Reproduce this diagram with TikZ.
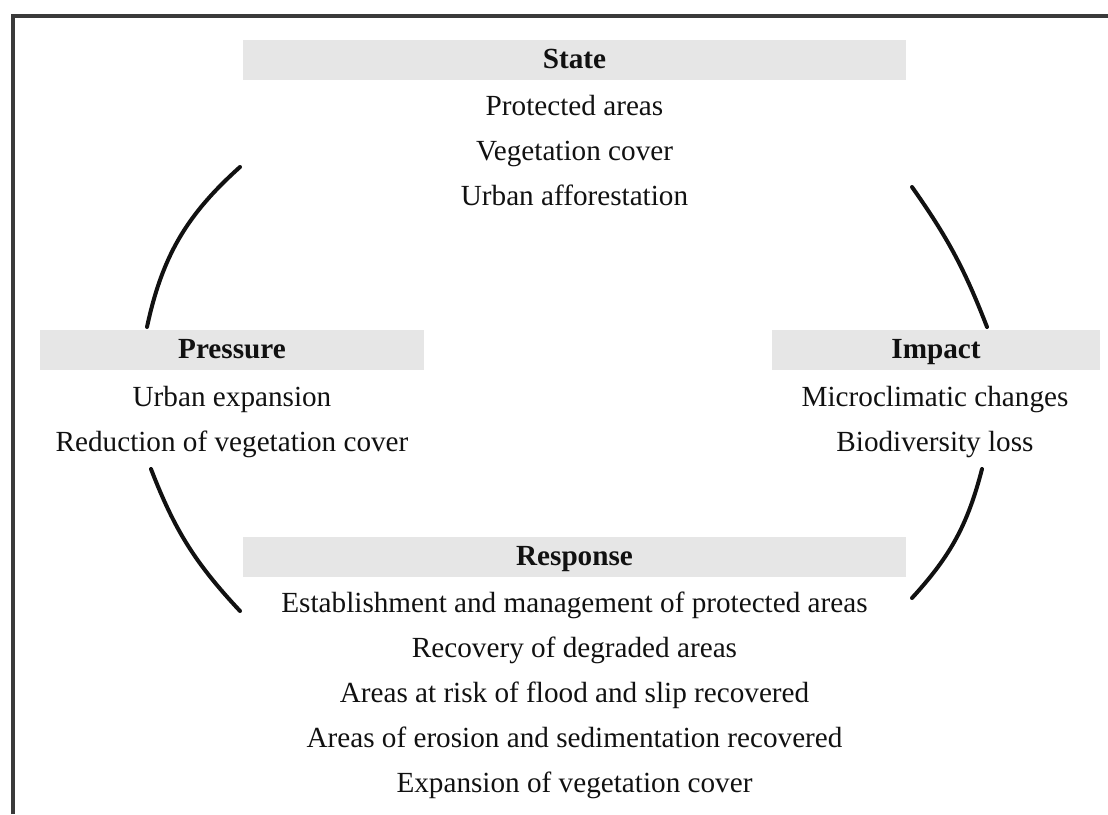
\documentclass[tikz,border=0pt]{standalone}
\usepackage{fontspec}
\setmainfont{Liberation Serif}
\usetikzlibrary{positioning}
\definecolor{dpBar}{HTML}{E6E6E6}
\definecolor{dpInk}{HTML}{111111}
\definecolor{dpFrame}{HTML}{3A3A3A}

\begin{document}
\begin{tikzpicture}[
    x=0.5pt, y=-0.5pt,
    bar/.style={fill=dpBar, minimum height=20pt, inner sep=0pt,
                text height=0.9em, text depth=0.08em,
                font=\fontsize{14.6}{17}\selectfont\bfseries, text=dpInk},
    items/.style={anchor=base, align=center, inner sep=0pt,
                  font=\fontsize{14.6}{22.4}\selectfont, text=dpInk},
    loopline/.style={line width=2pt, line cap=round, draw=dpInk},
  ]
  \useasboundingbox (0,0) rectangle (1108,814);
  \draw[dpFrame, line width=1.6pt] (13,814) -- (13,16) -- (1108,16);

  % the four headings
  \node[bar, minimum width=331.5pt] (state)    at (574.5,60) {State};
  \node[bar, minimum width=192pt]   (pressure) at (232,350)   {Pressure};
  \node[bar, minimum width=164pt]   (impact)   at (936,350)   {Impact};
  \node[bar, minimum width=331.5pt] (response) at (574.5,557) {Response};

  % indicators under each heading (placed by the baseline of the last line)
  \node[items] (stateList) at (574.5,205)
    {Protected areas\\Vegetation cover\\Urban afforestation};
  \node[items] (pressureList) at (232,451)
    {Urban expansion\\Reduction of vegetation cover};
  \node[items] (impactList) at (935,451)
    {Microclimatic changes\\Biodiversity loss};
  \node[items] (responseList) at (574.5,792)
    {Establishment and management of protected areas\\Recovery of degraded areas\\
     Areas at risk of flood and slip recovered\\Areas of erosion and sedimentation recovered\\
     Expansion of vegetation cover};

  % ends of the cycle arcs
  \coordinate (prOut) at (147,327);
  \coordinate (stIn)  at (240,167);
  \coordinate (stOut) at (912,187);
  \coordinate (imIn)  at (987,327);
  \coordinate (imOut) at (982,469);
  \coordinate (rsIn)  at (912,598);
  \coordinate (rsOut) at (240,611);
  \coordinate (prIn)  at (151,469);

  \draw[loopline] (prOut) to[bend left=18] (stIn);
  \draw[loopline] (stOut) to[bend left=7]  (imIn);
  \draw[loopline] (imOut) to[bend left=14] (rsIn);
  \draw[loopline] (rsOut) to[bend left=11] (prIn);
\end{tikzpicture}
\end{document}
